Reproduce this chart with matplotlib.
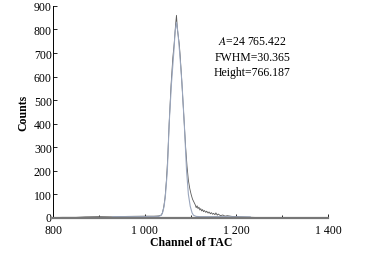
import matplotlib
matplotlib.use("Agg")
import matplotlib.pyplot as plt
from matplotlib.ticker import MultipleLocator
from matplotlib.transforms import ScaledTranslation

# measured spectrum (channel, counts)
chan = [800, 820, 850, 870, 900, 930, 960, 1000, 1020, 1030, 1035, 1038, 1041, 1044,
        1047, 1050, 1053, 1057, 1061, 1064, 1067, 1069, 1070, 1071, 1073, 1075, 1077,
        1080, 1083, 1086, 1089, 1092, 1095, 1098, 1101, 1104, 1107, 1110, 1112, 1114,
        1116, 1118, 1120, 1122, 1124, 1126, 1128, 1130, 1133, 1135, 1138, 1140, 1143,
        1145, 1148, 1150, 1153, 1155, 1158, 1160, 1165, 1170, 1175, 1180, 1190, 1200,
        1220, 1250, 1300, 1400]
counts = [2, 3, 3, 5, 6, 5, 7, 8, 8, 9, 12, 20, 45, 85,
          160, 260, 400, 560, 680, 740, 820, 860, 830, 800, 770, 740, 690,
          600, 500, 400, 300, 220, 160, 125, 100, 80, 68, 56, 44, 52,
          40, 46, 34, 40, 30, 36, 27, 32, 24, 29, 21, 26, 18,
          23, 16, 20, 14, 22, 12, 17, 10, 13, 8, 10, 7, 6,
          4, 2, 1, 0]

# fitted peak curve
fit_x = [930, 1000, 1025, 1030, 1036, 1039, 1042, 1045, 1049, 1053, 1058, 1063,
         1066, 1069, 1072, 1076, 1081, 1086, 1091, 1095, 1099, 1103, 1106, 1112,
         1120, 1160, 1230]
fit_y = [6, 6, 6, 7, 12, 25, 50, 100, 200, 400, 570, 700,
         790, 830, 790, 700, 570, 400, 200, 100, 50, 22, 12, 7,
         6, 6, 5]

xticks = [800, 1000, 1200, 1400]
xlabels = ["800", "1 000", "1 200", "1 400"]

plt.rcParams['font.family'] = ['Liberation Serif', 'DejaVu Serif']

fig = plt.figure(figsize=(3.75, 2.55), dpi=100)
ax = fig.add_axes([0.142, 0.141, 0.733, 0.832])

ax.plot(chan, counts, color="#5a5a5a", lw=0.6)
ax.plot(fit_x, fit_y, color="#9aa6bd", lw=0.8)

ax.set_xlim(800, 1400)
ax.set_ylim(0, 900)
ax.set_xticks(xticks)
ax.set_xticklabels(xlabels)
ax.xaxis.set_minor_locator(MultipleLocator(100))
ax.set_yticks(range(0, 901, 100))
ax.tick_params(direction="in", labelsize=8.5, length=3, width=0.6)
ax.tick_params(axis="y", pad=1)
ax.tick_params(axis="x", pad=4)
ax.tick_params(which="minor", direction="in", length=2, width=0.6)

# lift the "0" label a touch so it clears "800"
lbl0 = ax.get_yticklabels()[0]
lbl0.set_transform(lbl0.get_transform() + ScaledTranslation(0, 2 / 100, fig.dpi_scale_trans))

for s in ["top", "right"]:
    ax.spines[s].set_visible(False)
ax.spines["left"].set_linewidth(0.7)
ax.spines["bottom"].set_linewidth(1.6)
ax.spines["bottom"].set_color("#777777")

ax.set_xlabel("Channel of TAC", fontsize=8.5, fontweight="bold", labelpad=0)
ax.set_ylabel("Counts", fontsize=8.5, fontweight="bold", labelpad=3)

ax.text(0.725, 0.76, "$A$=24 765.422\nFWHM=30.365\nHeight=766.187",
        transform=ax.transAxes, ha="center", va="center", fontsize=8.5,
        linespacing=1.4, math_fontfamily="stix")

fig.savefig("out.png", dpi=100)
